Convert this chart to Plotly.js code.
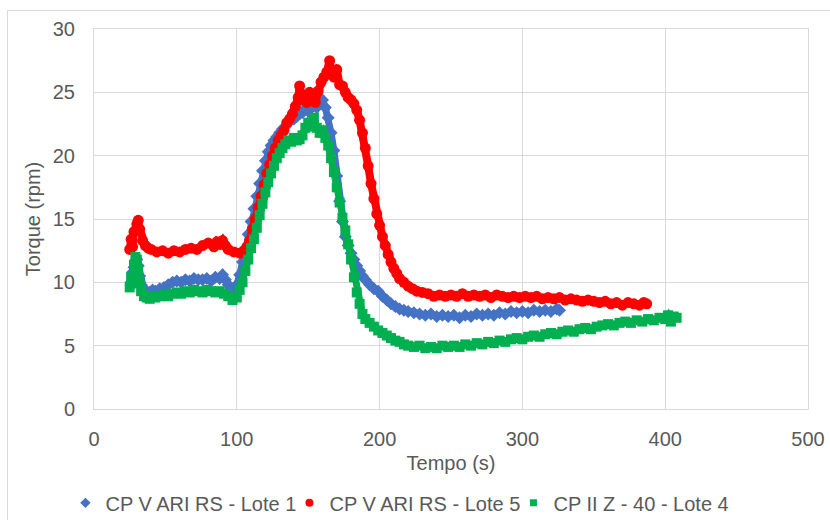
<!DOCTYPE html>
<html>
<head>
<meta charset="utf-8">
<script src="https://cdn.plot.ly/plotly-3.0.1.min.js"></script>
<style>
  html, body { margin: 0; padding: 0; background: #ffffff; }
  #wrap { position: absolute; left: 7px; top: 10px; width: 822px; height: 509px;
          border-left: 1px solid #d9d9d9; border-top: 1px solid #d9d9d9; }
  #chart { width: 822px; height: 509px; }
</style>
</head>
<body>
<div id="wrap"><div id="chart"></div></div>
<script>
// ---- Data ----
const seriesNames = ["CP V ARI RS - Lote 1", "CP V ARI RS - Lote 5", "CP II Z - 40 - Lote 4"];

const lote1Time = [26,27,28,29,30,31,32,33,35,37,39,41,43,46,49,52,55,58,61,64,67,70,73,76,79,82,85,88,90,92,94,96,98,100,102,104,106,108,110,112,114,116,118,120,122,124,126,128,130,132,134,136,138,140,142,144,146,148,150,152,154,156,158,160,162,164,166,168,170,172,174,176,178,180,182,184,186,188,190,193,196,199,202,205,208,211,214,217,220,224,228,232,236,240,244,248,252,256,260,264,268,272,276,280,284,288,292,296,300,304,308,312,316,320,324,326];
const lote1Torque = [10.0,10.8,11.2,11.6,11.8,11.3,10.5,9.8,9.4,9.3,9.2,9.4,9.3,9.5,9.6,9.8,10.0,10.1,10.0,10.2,10.1,10.3,10.2,10.2,10.3,10.1,10.4,10.3,10.6,10.2,9.8,9.5,9.4,9.8,10.6,11.6,12.6,13.8,14.8,15.8,16.8,17.8,18.8,19.6,20.3,20.8,21.2,21.5,21.8,22.1,22.3,22.6,22.8,22.9,23.1,23.3,23.4,23.7,23.5,23.9,24.0,23.8,24.3,24.4,23.8,23.0,21.8,20.4,18.4,16.4,14.8,13.6,12.9,12.3,11.8,11.3,10.9,10.5,10.2,9.8,9.5,9.3,8.9,8.6,8.3,8.1,7.9,7.8,7.7,7.6,7.5,7.4,7.5,7.3,7.4,7.3,7.4,7.2,7.4,7.3,7.5,7.4,7.5,7.4,7.6,7.5,7.7,7.6,7.7,7.6,7.8,7.7,7.8,7.7,7.9,7.8];

const lote5Time = [25,26,27,28,30,31,32,34,36,38,40,44,48,52,56,60,64,68,72,76,80,84,86,88,90,92,94,98,102,105,107,109,111,113,115,117,119,121,123,125,127,129,131,133,135,137,139,141,143,144,145,147,149,151,153,155,157,159,161,163,165,166,168,170,172,174,176,178,180,182,184,186,188,190,192,194,196,198,200,202,204,206,208,210,212,214,217,220,223,226,230,234,238,242,246,250,254,258,262,266,270,274,278,282,286,290,294,298,302,306,310,314,318,322,326,330,334,338,342,346,350,354,358,362,366,370,374,378,382,385,387];
const lote5Torque = [12.6,13.4,12.8,14.0,14.6,14.9,14.2,13.3,12.9,12.7,12.6,12.4,12.5,12.3,12.5,12.4,12.6,12.7,12.6,12.9,13.1,12.8,13.2,13.0,13.3,12.9,12.6,12.4,12.3,12.5,12.8,13.3,14.2,15.0,15.9,16.8,17.7,18.6,19.3,20.0,20.6,21.2,21.6,22.0,22.6,22.9,23.3,23.9,24.6,25.5,24.4,24.8,24.2,25.0,24.7,24.2,25.1,25.8,26.2,26.6,27.5,26.6,26.2,26.8,25.6,25.5,25.0,24.6,24.4,24.1,23.6,22.8,21.8,20.6,19.2,17.8,16.6,15.4,14.5,13.6,12.9,12.2,11.6,11.1,10.7,10.3,10.0,9.7,9.5,9.3,9.2,9.1,8.9,9.0,8.9,9.0,8.9,9.1,8.9,9.0,8.9,9.0,8.8,9.0,8.9,8.8,8.9,8.8,8.9,8.8,8.9,8.7,8.8,8.7,8.8,8.6,8.7,8.6,8.5,8.6,8.5,8.4,8.5,8.3,8.4,8.2,8.4,8.3,8.2,8.4,8.3];

const lote4Time = [25,26,27,28,29,30,31,32,33,35,37,39,41,43,46,49,52,55,58,61,64,67,70,73,76,79,82,85,88,91,94,97,100,102,104,106,108,110,112,114,116,118,120,122,124,126,128,130,132,134,136,138,140,142,144,146,148,150,152,154,156,158,160,162,164,166,168,170,172,174,176,178,180,182,184,186,188,190,193,196,199,202,205,208,211,214,217,220,224,228,232,236,240,244,248,252,256,260,264,268,272,276,280,284,288,292,296,300,304,308,312,316,320,324,328,332,336,340,344,348,352,356,360,364,368,372,376,380,384,388,392,396,400,402,404,406,408];
const lote4Torque = [9.6,10.4,9.9,11.4,12.0,11.8,11.0,10.0,9.3,8.9,8.8,8.7,8.9,8.8,8.9,9.0,8.9,9.1,9.2,9.1,9.3,9.2,9.4,9.3,9.2,9.4,9.3,9.2,9.3,9.1,8.9,8.6,8.8,9.4,10.0,10.9,11.8,12.7,13.4,14.3,15.3,16.2,17.1,17.9,18.6,19.2,19.8,20.2,20.6,20.9,21.2,21.1,21.4,21.2,21.3,21.6,22.2,22.6,22.3,23.0,22.2,21.8,22.0,21.4,20.8,19.8,18.7,17.5,16.3,15.1,14.1,13.0,11.8,10.4,9.2,8.3,7.5,7.1,6.8,6.5,6.2,6.0,5.8,5.6,5.4,5.3,5.1,5.0,4.9,5.0,4.8,4.9,4.8,5.0,4.9,5.0,4.9,5.1,5.0,5.2,5.1,5.3,5.2,5.4,5.3,5.5,5.6,5.5,5.7,5.8,5.7,5.9,6.0,5.9,6.1,6.2,6.1,6.3,6.4,6.3,6.5,6.6,6.7,6.6,6.8,6.9,6.8,7.0,6.9,7.1,7.0,7.2,7.1,7.4,6.9,7.3,7.2];

const xTicks = [0, 100, 200, 300, 400, 500];
const yTicks = [0, 5, 10, 15, 20, 25, 30];

// ---- Styles ----
const colors = ["#4472C4", "#FF0000", "#00B050"];
const symbols = ["diamond", "circle", "square"];
const FONT = "Liberation Sans, Arial, sans-serif";

function dataTrace(x, y, i, msize, lwidth) {
  return {
    x: x, y: y, type: "scatter", mode: "lines+markers", name: seriesNames[i],
    showlegend: false, hoverinfo: "skip",
    line: { color: colors[i], width: lwidth },
    marker: { color: colors[i], symbol: symbols[i], size: msize }
  };
}
function legendTrace(i, msize) {
  return {
    x: [null], y: [null], type: "scatter", mode: "markers", name: seriesNames[i],
    showlegend: true, marker: { color: colors[i], symbol: symbols[i], size: msize }
  };
}

const traces = [
  dataTrace(lote1Time, lote1Torque, 0, 10, 7),
  dataTrace(lote5Time, lote5Torque, 1, 11, 8),
  dataTrace(lote4Time, lote4Torque, 2, 10, 7),
  legendTrace(0, 8), legendTrace(1, 8), legendTrace(2, 7)
];

const layout = {
  width: 822, height: 509,
  margin: { l: 86, r: 22, t: 18, b: 111, autoexpand: false },
  paper_bgcolor: "#ffffff", plot_bgcolor: "#ffffff",
  font: { family: FONT, size: 20, color: "#595959" },
  xaxis: {
    range: [0, 500], tickvals: xTicks, ticktext: xTicks.map(String),
    automargin: false,
    showgrid: true, gridcolor: "#d9d9d9", gridwidth: 1,
    zeroline: false, showline: true, linecolor: "#d9d9d9", mirror: true,
    ticks: "", ticklabelstandoff: 12,
    tickfont: { family: FONT, size: 20, color: "#595959" },
    title: { text: "Tempo (s)", font: { family: FONT, size: 20, color: "#595959" }, standoff: 6 }
  },
  yaxis: {
    range: [0, 30], tickvals: yTicks, ticktext: yTicks.map(String),
    automargin: false,
    showgrid: true, gridcolor: "#d9d9d9", gridwidth: 1,
    zeroline: false, showline: true, linecolor: "#d9d9d9", mirror: true,
    ticks: "", ticklabelstandoff: 14,
    tickfont: { family: FONT, size: 20, color: "#595959" },
    title: { text: "Torque (rpm)", font: { family: FONT, size: 20, color: "#595959" }, standoff: 6 }
  },
  legend: {
    orientation: "h", x: -0.04, xanchor: "left", y: -0.247, yanchor: "middle",
    font: { family: FONT, size: 20, color: "#595959" },
    itemwidth: 30, entrywidth: 179, entrywidthmode: "pixels",
    tracegroupgap: 0, bgcolor: "rgba(0,0,0,0)"
  },
  showlegend: true
};

Plotly.newPlot("chart", traces, layout, { displayModeBar: false, staticPlot: true });
</script>
</body>
</html>
